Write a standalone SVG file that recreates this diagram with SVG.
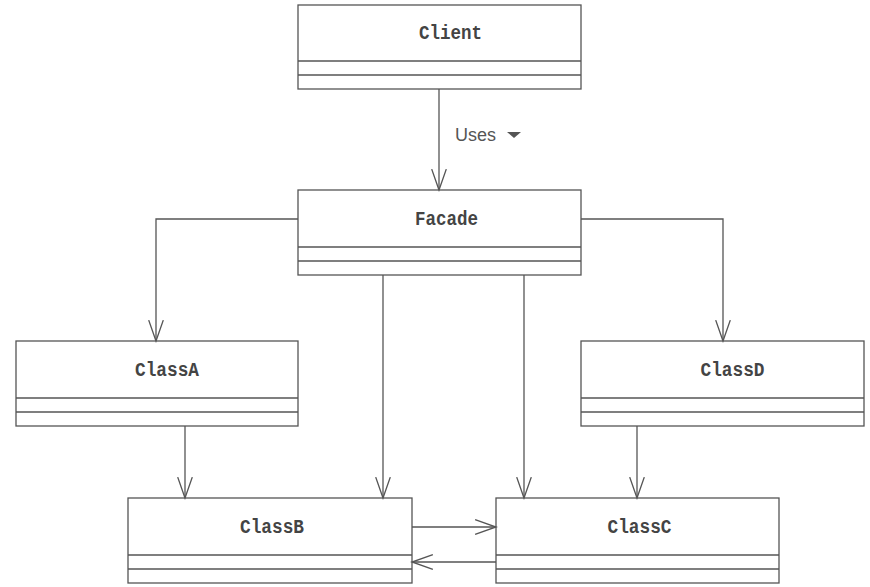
<svg xmlns="http://www.w3.org/2000/svg" width="870" height="587" viewBox="0 0 870 587">
  <style>
    .box { fill: #ffffff; stroke: #555555; stroke-width: 1.3; }
    .div { stroke: #555555; stroke-width: 1.3; }
    .name { font-family: "Liberation Mono", "Courier New", monospace; font-weight: bold; font-size: 20px; fill: #444444; text-anchor: middle; }
    .edge { fill: none; stroke: #555555; stroke-width: 1.3; marker-end: url(#open); }
    .label { font-family: "Liberation Sans", Arial, sans-serif; font-size: 18px; fill: #555555; }
  </style>
  <defs>
    <marker id="open" markerUnits="userSpaceOnUse" markerWidth="24" markerHeight="24" viewBox="-21 -9 23 18" refX="0" refY="0" orient="auto">
      <path d="M -20 -7 L 0 0 L -20 7" fill="none" stroke="#555555" stroke-width="1.3"/>
    </marker>
  </defs>
  <rect width="870" height="587" fill="#ffffff"/>

  <g id="Client">
    <rect class="box" x="298" y="5" width="283" height="84"/>
    <line class="div" x1="298" y1="61" x2="581" y2="61"/>
    <line class="div" x1="298" y1="75" x2="581" y2="75"/>
    <text class="name" x="450.5" y="39" textLength="63" lengthAdjust="spacingAndGlyphs">Client</text>
  </g>

  <g id="Facade">
    <rect class="box" x="298" y="190" width="283" height="85"/>
    <line class="div" x1="298" y1="247" x2="581" y2="247"/>
    <line class="div" x1="298" y1="261" x2="581" y2="261"/>
    <text class="name" x="446.5" y="225" textLength="63" lengthAdjust="spacingAndGlyphs">Facade</text>
  </g>

  <g id="ClassA">
    <rect class="box" x="16" y="341" width="282" height="85"/>
    <line class="div" x1="16" y1="398" x2="298" y2="398"/>
    <line class="div" x1="16" y1="412" x2="298" y2="412"/>
    <text class="name" x="167" y="376" textLength="64" lengthAdjust="spacingAndGlyphs">ClassA</text>
  </g>

  <g id="ClassD">
    <rect class="box" x="581" y="341" width="283" height="85"/>
    <line class="div" x1="581" y1="398" x2="864" y2="398"/>
    <line class="div" x1="581" y1="412" x2="864" y2="412"/>
    <text class="name" x="732.5" y="376" textLength="64" lengthAdjust="spacingAndGlyphs">ClassD</text>
  </g>

  <g id="ClassB">
    <rect class="box" x="128" y="498" width="284" height="85"/>
    <line class="div" x1="128" y1="555" x2="412" y2="555"/>
    <line class="div" x1="128" y1="569" x2="412" y2="569"/>
    <text class="name" x="272" y="533" textLength="64" lengthAdjust="spacingAndGlyphs">ClassB</text>
  </g>

  <g id="ClassC">
    <rect class="box" x="496" y="498" width="283" height="85"/>
    <line class="div" x1="496" y1="555" x2="779" y2="555"/>
    <line class="div" x1="496" y1="569" x2="779" y2="569"/>
    <text class="name" x="639.5" y="533" textLength="64" lengthAdjust="spacingAndGlyphs">ClassC</text>
  </g>

  <g id="connectors">
    <path class="edge" d="M 439 89 L 439 190"/>
    <path class="edge" d="M 298 219 L 156 219 L 156 341"/>
    <path class="edge" d="M 581 219 L 723 219 L 723 341"/>
    <path class="edge" d="M 383 275 L 383 498"/>
    <path class="edge" d="M 524 275 L 524 498"/>
    <path class="edge" d="M 185 426 L 185 498"/>
    <path class="edge" d="M 637 426 L 637 498"/>
    <path class="edge" d="M 412 527 L 496 527"/>
    <path class="edge" d="M 496 562 L 412 562"/>
    <text class="label" x="455" y="141">Uses</text>
    <path d="M 507 132 L 521 132 L 514 138 Z" fill="#555555"/>
  </g>
</svg>
